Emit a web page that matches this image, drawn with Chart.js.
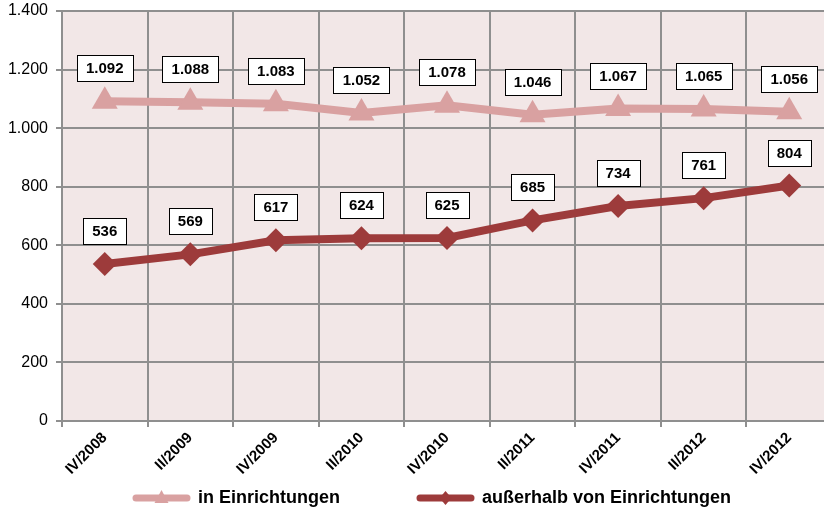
<!DOCTYPE html>
<html>
<head>
<meta charset="utf-8">
<script src="https://cdn.jsdelivr.net/npm/chart.js@4"></script>
<style>
  html, body { margin: 0; padding: 0; background: #fff; overflow: hidden; }
  #wrap { width: 840px; height: 513px; }
</style>
</head>
<body>
<div id="wrap"><canvas id="chart" width="840" height="513"></canvas></div>
<script>
const quarters = ['IV/2008', 'II/2009', 'IV/2009', 'II/2010', 'IV/2010', 'II/2011', 'IV/2011', 'II/2012', 'IV/2012']
const inEinrichtungen = [1092, 1088, 1083, 1052, 1078, 1046, 1067, 1065, 1056]
const ausserhalb = [536, 569, 617, 624, 625, 685, 734, 761, 804]
const seriesNames = ['in Einrichtungen', 'außerhalb von Einrichtungen']

const lightColor = '#d9a1a1'
const darkColor = '#9d3b3b'
const gridColor = '#8f8f8f'

// 1092 -> "1.092"
function fmt(v) {
  return String(v).replace(/\B(?=(\d{3})+(?!\d))/g, '.')
}

const plotBg = {
  id: 'plotBg',
  beforeDraw(chart) {
    const { ctx, chartArea: a } = chart
    ctx.save()
    ctx.fillStyle = '#f2e7e7'
    ctx.fillRect(a.left, a.top, a.right - a.left, a.bottom - a.top)
    ctx.restore()
  }
}

// boxed value labels above each point
const valueBoxes = {
  id: 'valueBoxes',
  afterDatasetsDraw(chart) {
    const ctx = chart.ctx
    ctx.save()
    ctx.font = 'bold 15px Arial, "Liberation Sans"'
    ctx.textAlign = 'center'
    ctx.textBaseline = 'middle'
    chart.data.datasets.forEach((ds, i) => {
      chart.getDatasetMeta(i).data.forEach((pt, j) => {
        const txt = fmt(ds.data[j])
        const w = Math.round(ctx.measureText(txt).width + 18)
        const h = 26
        const left = Math.round(pt.x - w / 2)
        const top = Math.round(pt.y - 33 - h / 2)
        ctx.fillStyle = '#fff'
        ctx.fillRect(left, top, w, h)
        ctx.strokeStyle = '#000'
        ctx.lineWidth = 1
        ctx.strokeRect(left + 0.5, top + 0.5, w, h)
        ctx.fillStyle = '#000'
        ctx.fillText(txt, pt.x, top + h / 2 + 1)
      })
    })
    ctx.restore()
  }
}

// legend: line sample with marker + bold text
const bottomLegend = {
  id: 'bottomLegend',
  afterDraw(chart) {
    const ctx = chart.ctx
    ctx.save()
    ctx.font = 'bold 18px Arial, "Liberation Sans"'
    ctx.textBaseline = 'middle'
    const y = 498
    const items = [
      { name: seriesNames[0], color: lightColor, marker: 'triangle', x: 133 },
      { name: seriesNames[1], color: darkColor, marker: 'diamond', x: 417 }
    ]
    items.forEach(it => {
      const sample = 57
      ctx.strokeStyle = it.color
      ctx.lineWidth = 7
      ctx.lineCap = 'round'
      ctx.beginPath()
      ctx.moveTo(it.x + 3, y)
      ctx.lineTo(it.x + sample - 3, y)
      ctx.stroke()
      const mx = it.x + sample / 2
      ctx.fillStyle = it.color
      ctx.beginPath()
      if (it.marker === 'triangle') {
        ctx.moveTo(mx, y - 8)
        ctx.lineTo(mx + 7, y + 5)
        ctx.lineTo(mx - 7, y + 5)
      } else {
        ctx.moveTo(mx, y - 7)
        ctx.lineTo(mx + 6, y)
        ctx.lineTo(mx, y + 7)
        ctx.lineTo(mx - 6, y)
      }
      ctx.closePath()
      ctx.fill()
      ctx.fillStyle = '#000'
      ctx.fillText(it.name, it.x + sample + 8, y)
    })
    ctx.restore()
  }
}

new Chart(document.getElementById('chart'), {
  type: 'line',
  data: {
    labels: quarters,
    datasets: [{
      label: seriesNames[0],
      data: inEinrichtungen,
      borderColor: lightColor,
      backgroundColor: lightColor,
      borderWidth: 8,
      pointStyle: 'triangle',
      pointRadius: 15,
      pointBorderWidth: 0,
      tension: 0
    }, {
      label: seriesNames[1],
      data: ausserhalb,
      borderColor: darkColor,
      backgroundColor: darkColor,
      borderWidth: 8,
      pointStyle: 'rectRot',
      pointRadius: 12,
      pointBorderWidth: 0,
      tension: 0
    }]
  },
  options: {
    responsive: false,
    animation: false,
    layout: { autoPadding: false, padding: { top: 11, right: 8, left: 0, bottom: 0 } },
    plugins: {
      legend: { display: false },
      tooltip: { enabled: false }
    },
    scales: {
      x: {
        offset: true,
        grid: { offset: true, color: gridColor, lineWidth: 2, tickLength: 6 },
        border: { color: gridColor, width: 2 },
        ticks: {
          minRotation: 45,
          maxRotation: 45,
          padding: 2,
          color: '#000',
          font: { family: 'Arial, "Liberation Sans"', size: 15, weight: 'bold' }
        },
        afterFit(scale) {
          scale.height = 92
          scale.paddingLeft = 0
          scale.paddingRight = 0
        }
      },
      y: {
        min: 0,
        max: 1400,
        ticks: {
          stepSize: 200,
          padding: 8,
          color: '#000',
          font: { family: 'Arial, "Liberation Sans"', size: 16 },
          callback: v => fmt(v)
        },
        grid: { color: gridColor, lineWidth: 2, tickLength: 6 },
        border: { color: gridColor, width: 2 },
        afterFit(scale) {
          scale.width = 62
          scale.paddingTop = 0
          scale.paddingBottom = 0
        }
      }
    }
  },
  plugins: [plotBg, valueBoxes, bottomLegend]
})
</script>
</body>
</html>
